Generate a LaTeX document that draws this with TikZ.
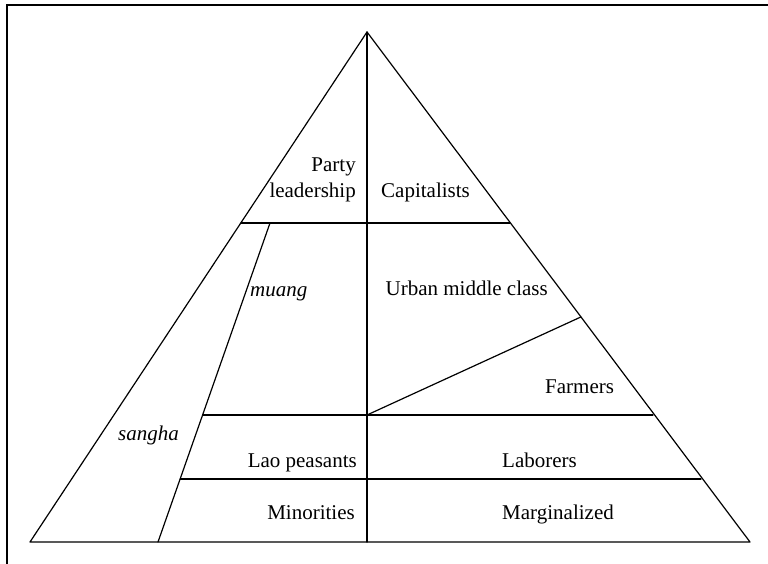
\documentclass[tikz,border=0pt]{standalone}
\usepackage{fontspec}
\setmainfont{Liberation Serif}
\begin{document}
\begin{tikzpicture}[x=1pt,y=-1pt,
  edge/.style={line width=1.2pt,line cap=round,line join=round},
  frame/.style={line width=2pt},
  lbl/.style={inner sep=0pt,font=\fontsize{21}{25}\selectfont}]
\useasboundingbox (0,0) rectangle (768,564);
% outer frame (top and left edges)
\draw[frame] (6.5,564) -- (6.5,5) -- (768,5);

% pyramid corners
\coordinate (apex) at (367,32);
\coordinate (bl) at (30,542);
\coordinate (br) at (750,542);
\coordinate (bm) at (367,542);

% outline and central axis
\draw[edge] (bl) -- (apex) -- (br) -- cycle;
\draw[edge] (apex) -- (bm);

% top tier line
\coordinate (t1l) at (241,223);
\coordinate (t1r) at (510,223);
\draw[edge] (t1l) -- (t1r);

% sangha / muang boundary
\coordinate (s1) at (270,223);
\coordinate (s2) at (158,542);
\draw[edge] (s1) -- (s2);

% lower tier lines
\coordinate (t2l) at (202.6,415);
\coordinate (t2r) at (653,415);
\draw[edge] (t2l) -- (t2r);
\coordinate (t3l) at (180.2,479);
\coordinate (t3r) at (701,479);
\draw[edge] (t3l) -- (t3r);

% urban middle class / farmers split
\coordinate (d1) at (367,415);
\coordinate (d2) at (580.8,317);
\draw[edge] (d1) -- (d2);

% labels
\node[lbl,anchor=base east] (party) at (356,172) {Party};
\node[lbl,anchor=base east] (lead) at (356,197) {leadership};
\node[lbl,anchor=base west] (cap) at (381,197) {Capitalists};
\node[lbl,anchor=base west] (muang) at (250,296) {\itshape muang};
\node[lbl,anchor=base east] (urban) at (548,295) {Urban middle class};
\node[lbl,anchor=base west] (farm) at (545,393) {Farmers};
\node[lbl,anchor=base east] (sangha) at (179,440) {\itshape sangha};
\node[lbl,anchor=base east] (lao) at (357,467) {Lao peasants};
\node[lbl,anchor=base east] (lab) at (577,467) {Laborers};
\node[lbl,anchor=base east] (min) at (355,519) {Minorities};
\node[lbl,anchor=base east] (marg) at (614,519) {Marginalized};
\end{tikzpicture}
\end{document}
